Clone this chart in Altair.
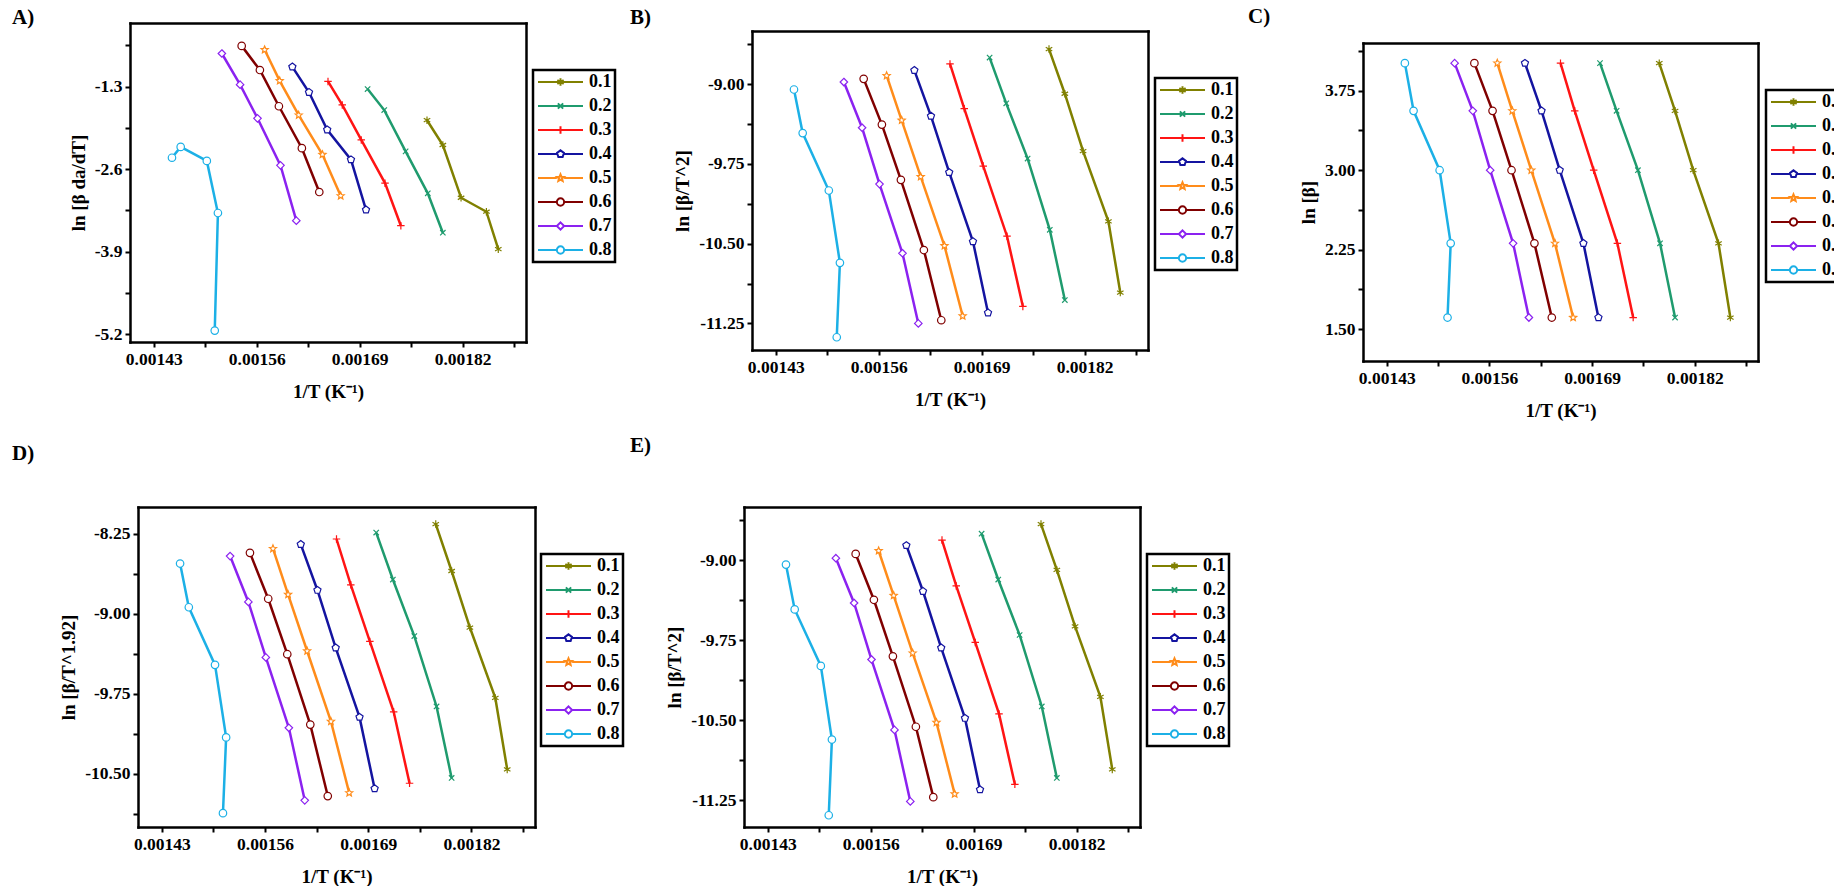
import math
import json
import altair as alt
import pandas as pd

# ---------------------------------------------------------------- data
alphas = ["0.1", "0.2", "0.3", "0.4", "0.5", "0.6", "0.7", "0.8"]
series_colors = ["#808000", "#1f9b6e", "#ff1414", "#1414a0",
                 "#ff8c1a", "#800000", "#8b22f0", "#1cb0e6"]
marker_kinds = ["asterisk", "cross", "plus", "pentagon",
                "star", "circle", "diamond", "circle"]

# 1/T (K^-1) for each conversion, fastest heating rate first
inv_temp = {
    "0.1": [0.001775, 0.001795, 0.001818, 0.001850, 0.001865],
    "0.2": [0.001700, 0.001721, 0.001748, 0.001776, 0.001795],
    "0.3": [0.001650, 0.001668, 0.001692, 0.001722, 0.001742],
    "0.4": [0.001605, 0.001626, 0.001649, 0.001679, 0.001698],
    "0.5": [0.001570, 0.001589, 0.001613, 0.001643, 0.001666],
    "0.6": [0.001541, 0.001564, 0.001588, 0.001617, 0.001639],
    "0.7": [0.001516, 0.001539, 0.001561, 0.001590, 0.001610],
    "0.8": [0.001453, 0.001464, 0.001497, 0.001511, 0.001507],
}

# A) ln [beta da/dT]
ln_rate = {
    "0.1": [-1.83, -2.22, -3.05, -3.27, -3.86],
    "0.2": [-1.34, -1.67, -2.32, -2.98, -3.60],
    "0.3": [-1.22, -1.59, -2.14, -2.82, -3.49],
    "0.4": [-0.99, -1.39, -1.98, -2.45, -3.24],
    "0.5": [-0.72, -1.21, -1.75, -2.37, -3.02],
    "0.6": [-0.66, -1.04, -1.61, -2.27, -2.96],
    "0.7": [-0.78, -1.27, -1.80, -2.54, -3.41],
    "0.8": [-2.42, -2.25, -2.47, -3.29, -5.14],
}

# B) ln [beta/T^2]
ln_beta_t2 = {
    "0.1": [-8.67, -9.09, -9.63, -10.29, -10.96],
    "0.2": [-8.75, -9.18, -9.70, -10.37, -11.03],
    "0.3": [-8.81, -9.23, -9.77, -10.43, -11.09],
    "0.4": [-8.87, -9.30, -9.83, -10.48, -11.15],
    "0.5": [-8.92, -9.34, -9.87, -10.52, -11.18],
    "0.6": [-8.95, -9.38, -9.90, -10.56, -11.22],
    "0.7": [-8.98, -9.41, -9.94, -10.59, -11.25],
    "0.8": [-9.05, -9.46, -10.00, -10.68, -11.38],
}

# C) ln [beta], same heating rates for every conversion
ln_beta = [4.01, 3.56, 3.00, 2.31, 1.61]

# D) ln [beta/T^1.92]
ln_beta_t192 = {
    "0.1": [-8.16, -8.60, -9.13, -9.79, -10.46],
    "0.2": [-8.24, -8.68, -9.21, -9.87, -10.54],
    "0.3": [-8.30, -8.73, -9.26, -9.92, -10.59],
    "0.4": [-8.35, -8.78, -9.32, -9.97, -10.64],
    "0.5": [-8.39, -8.82, -9.35, -10.01, -10.68],
    "0.6": [-8.43, -8.86, -9.38, -10.04, -10.71],
    "0.7": [-8.46, -8.89, -9.41, -10.07, -10.75],
    "0.8": [-8.53, -8.94, -9.48, -10.16, -10.87],
}

# E) ln [beta/T^2]
ln_beta_t2_e = {
    "0.1": [-8.66, -9.09, -9.62, -10.28, -10.96],
    "0.2": [-8.75, -9.18, -9.70, -10.37, -11.04],
    "0.3": [-8.81, -9.24, -9.77, -10.44, -11.10],
    "0.4": [-8.86, -9.29, -9.82, -10.48, -11.15],
    "0.5": [-8.91, -9.33, -9.87, -10.52, -11.19],
    "0.6": [-8.94, -9.37, -9.90, -10.56, -11.22],
    "0.7": [-8.98, -9.40, -9.93, -10.59, -11.26],
    "0.8": [-9.04, -9.46, -9.99, -10.68, -11.39],
}

x_major = [0.00143, 0.00156, 0.00169, 0.00182]
x_minor = [0.001495, 0.001625, 0.001755, 0.001885]

# ---------------------------------------------------------------- style
FONT = "Liberation Serif"
MINUS = "\u2212"
TITLE_LIFT = 17   # how far Vega raises a top title above the view
FRAME_W = 2.5
PAGE_W, PAGE_H = 1834, 886


def label_expr(major):
    return (f"indexof({json.dumps(major)}, datum.value) >= 0 ? "
            f"replace(datum.label, '{MINUS}', '-') : ''")


def fmt_pts(pts):
    return "L".join(f"{x:.3f},{y:.3f}" for x, y in pts)


def marker_path(kind, cx=0.0, r=1.0):
    """SVG path of a marker centred at (cx, 0) with half-size r."""
    if kind == "circle":
        return (f"M{cx - r:.3f},0A{r:.3f},{r:.3f} 0 1,0 {cx + r:.3f},0"
                f"A{r:.3f},{r:.3f} 0 1,0 {cx - r:.3f},0Z")
    if kind == "diamond":
        pts = [(cx, -r), (cx + r, 0), (cx, r), (cx - r, 0)]
        return "M" + fmt_pts(pts) + "Z"
    if kind == "pentagon":
        pts = [(cx + r * math.cos(-math.pi / 2 + i * 2 * math.pi / 5),
                r * math.sin(-math.pi / 2 + i * 2 * math.pi / 5)) for i in range(5)]
        return "M" + fmt_pts(pts) + "Z"
    if kind == "star":
        pts = []
        for i in range(10):
            a = -math.pi / 2 + i * math.pi / 5
            rad = r if i % 2 == 0 else 0.45 * r
            pts.append((cx + rad * math.cos(a), rad * math.sin(a)))
        return "M" + fmt_pts(pts) + "Z"
    d = 0.72 * r
    segs = []
    if kind == "plus":
        segs += [(cx, -r, cx, r), (cx - r, 0, cx + r, 0)]
    if kind == "asterisk":
        s, c = 0.87 * r, 0.5 * r
        segs += [(cx, -r, cx, r), (cx - s, -c, cx + s, c), (cx - s, c, cx + s, -c)]
    if kind == "cross":
        segs += [(cx - d, -d, cx + d, d), (cx - d, d, cx + d, -d)]
    return "".join(f"M{a:.3f},{b:.3f}L{c:.3f},{e:.3f}" for a, b, c, e in segs)


# legend glyph: a line segment with the marker in its middle
LEG_UNIT = 7.0                      # sqrt(symbolSize) / 2
LEG_LEN = 45.0                      # line length in px
leg_end = (LEG_LEN - LEG_UNIT) / LEG_UNIT
leg_cx = (LEG_LEN / 2 - LEG_UNIT) / LEG_UNIT
leg_r = 0.52


def legend_path(kind):
    hollow = kind in ("circle", "diamond", "pentagon", "star")
    if hollow:
        line = f"M-1,0L{leg_cx - leg_r:.3f},0M{leg_cx + leg_r:.3f},0L{leg_end:.3f},0"
    else:
        line = f"M-1,0L{leg_end:.3f},0"
    return line + marker_path(kind, leg_cx, leg_r)


legend_paths = [legend_path(k) for k in marker_kinds]
color_scale = alt.Scale(domain=alphas, range=series_colors)

# frame = plot box (left, top, width, height); view = grid cell holding it
panels = [
    dict(label="A)", ytitle="ln [\u03b2 da/dT]", y=ln_rate, domain=[-5.32, -0.3],
         major=[-1.3, -2.6, -3.9, -5.2], minor=[-0.65, -1.95, -3.25, -4.55], fmt=".1f",
         frame=(130, 23, 396, 319), view=(130, 23, 405, 338), lab=(12, 22)),
    dict(label="B)", ytitle="ln [\u03b2/T^2]", y=ln_beta_t2, domain=[-11.5, -8.5],
         major=[-9.0, -9.75, -10.5, -11.25], minor=[-8.625, -9.375, -10.125, -10.875], fmt=".2f",
         frame=(752, 31, 396, 319), view=(744, 23, 404, 338), lab=(630, 22)),
    dict(label="C)", ytitle="ln [\u03b2]", y=ln_beta, domain=[1.2, 4.2],
         major=[3.75, 3.0, 2.25, 1.5], minor=[4.125, 3.375, 2.625, 1.875], fmt=".2f",
         frame=(1363, 43, 395, 318), view=(1363, 23, 395, 338), lab=(1248, 21)),
    dict(label="D)", ytitle="ln [\u03b2/T^1.92]", y=ln_beta_t192, domain=[-11.0, -8.0],
         major=[-8.25, -9.0, -9.75, -10.5], minor=[-8.625, -9.375, -10.125, -10.875], fmt=".2f",
         frame=(138, 507, 397, 320), view=(130, 507, 405, 320), lab=(12, 458)),
    dict(label="E)", ytitle="ln [\u03b2/T^2]", y=ln_beta_t2_e, domain=[-11.5, -8.5],
         major=[-9.0, -9.75, -10.5, -11.25], minor=[-8.625, -9.375, -10.125, -10.875], fmt=".2f",
         frame=(744, 507, 396, 320), view=(744, 507, 404, 320), lab=(630, 450)),
]

edge_axis = dict(labels=False, ticks=False, title=None, domainColor="black",
                 domainWidth=FRAME_W, domainCap="square")


def make_panel(p):
    fl, ft, fw, fh = p["frame"]
    vl, vt, vw, vh = p["view"]
    x0, y0 = fl - vl, ft - vt              # frame offset inside the view

    rows = []
    for a in alphas:
        ys = p["y"][a] if isinstance(p["y"], dict) else p["y"]
        for k in range(5):
            rows.append({"alpha": a, "k": k, "inv_t": inv_temp[a][k], "val": ys[k]})
    base = alt.Chart(pd.DataFrame(rows))

    x_scale = alt.Scale(domain=[0.0014, 0.0019], nice=False, zero=False,
                        range=[x0, x0 + fw])
    y_scale = alt.Scale(domain=p["domain"], nice=False, zero=False,
                        range=[y0 + fh, y0])

    x_bottom = alt.X("inv_t:Q", scale=x_scale, axis=alt.Axis(
        orient="bottom", offset=(y0 + fh) - vh, values=x_major + x_minor,
        format=".5f", labelExpr=label_expr(x_major), title="1/T (K\u207b\u00b9)",
        domainCap="square"))
    y_left = alt.Y("val:Q", scale=y_scale, axis=alt.Axis(
        orient="left", offset=-x0, values=p["major"] + p["minor"], format=p["fmt"],
        labelExpr=label_expr(p["major"]), title=p["ytitle"], domainCap="square"))
    x_top = alt.X("inv_t:Q", scale=x_scale,
                  axis=alt.Axis(orient="top", offset=-y0, **edge_axis))
    y_right = alt.Y("val:Q", scale=y_scale,
                    axis=alt.Axis(orient="right", offset=(x0 + fw) - vw, **edge_axis))
    x_plain = alt.X("inv_t:Q", scale=x_scale, axis=None)
    y_plain = alt.Y("val:Q", scale=y_scale, axis=None)

    legend = alt.Legend(orient="none", legendX=x0 + 403, legendY=y0 + 47, title=None,
                        strokeColor="black", fillColor="white", padding=3,
                        rowPadding=6, symbolSize=196, symbolStrokeWidth=2,
                        symbolOpacity=1, symbolFillColor="white", labelOffset=35,
                        labelFont=FONT, labelFontSize=18, labelFontWeight="bold",
                        labelColor="black")

    lines = base.mark_line(strokeWidth=2.5, opacity=1).encode(
        x=x_bottom, y=y_left,
        color=alt.Color("alpha:N", scale=color_scale, legend=legend),
        order=alt.Order("k:Q"),
    )
    layers = [lines]
    for i, (a, c, kind) in enumerate(zip(alphas, series_colors, marker_kinds)):
        layers.append(
            base.transform_filter(alt.datum.alpha == a)
            .mark_point(shape=marker_path(kind), size=56, filled=False, fill="white",
                        fillOpacity=1, stroke=c, strokeWidth=1.2, opacity=1)
            .encode(x=x_top if i == 0 else x_plain, y=y_right if i == 0 else y_plain)
        )
    key = base.transform_filter("false").mark_point(
        filled=False, fill="white", opacity=1, strokeWidth=2
    ).encode(
        color=alt.Color("alpha:N", scale=color_scale, legend=legend),
        shape=alt.Shape("alpha:N", scale=alt.Scale(domain=alphas, range=legend_paths),
                        legend=legend),
    )
    layers.append(key)

    lx, ly = p["lab"]
    return alt.layer(*layers).resolve_axis(x="independent", y="independent").properties(
        width=vw, height=vh,
        title=alt.TitleParams(p["label"], anchor="start", frame="group", orient="top",
                              offset=0, dx=lx - vl, dy=ly - vt + TITLE_LIFT,
                              baseline="middle", font=FONT, fontSize=21,
                              fontWeight="bold", color="black"),
    )


def spacer(w, h):
    return alt.Chart(pd.DataFrame({"s": [0]})).mark_point(opacity=0).encode(
        x=alt.X("s:Q", axis=None), y=alt.Y("s:Q", axis=None)
    ).properties(width=w, height=h)


A, B, C, D, E = [make_panel(p) for p in panels]
va, vb, vc, vd = panels[0]["view"], panels[1]["view"], panels[2]["view"], panels[3]["view"]

# grid columns: left margin | A,D | gap | B,E | gap | C
col_w = [va[0], va[2], vb[0] - va[0] - va[2], vb[2], vc[0] - vb[0] - vb[2], vc[2]]
# grid rows: top margin | A,B,C | gap | D,E
row_h = [va[1], va[3], vd[1] - va[1] - va[3], vd[3]]

cells = [[None] * 6 for _ in range(4)]
for c in range(6):
    cells[0][c] = spacer(col_w[c], row_h[0] if c == 0 else 1)
for r in range(1, 4):
    cells[r][0] = spacer(1, row_h[r])
cells[1][1], cells[1][3], cells[1][5] = A, B, C
cells[3][1], cells[3][3] = D, E
grid = [cells[r][c] if cells[r][c] is not None else spacer(1, 1)
        for r in range(4) for c in range(6)]

# fixed-size page: the C legend runs past the right edge and is cut there
chart = alt.concat(*grid, columns=6).properties(
    spacing=0, bounds="flush", align="each", background="white",
    autosize=alt.AutoSizeParams(type="none"),
    padding={"left": 0, "top": 0, "right": PAGE_W, "bottom": PAGE_H},
).resolve_scale(
    x="independent", y="independent", color="independent", shape="independent"
).resolve_axis(
    x="independent", y="independent"
).resolve_legend(
    color="independent", shape="independent"
).configure_view(
    stroke="transparent"
).configure_axis(
    grid=False, domainColor="black", domainWidth=FRAME_W, tickColor="black",
    tickWidth=2, tickSize=5, labelFont=FONT, labelFontSize=17.5,
    labelFontWeight="bold", labelColor="black", labelPadding=3,
    labelFlush=False, labelOverlap=False, titleFont=FONT, titleFontSize=19,
    titleFontWeight="bold", titleColor="black",
).configure_axisX(
    titlePadding=15
).configure_axisY(
    titlePadding=6
).configure_legend(
    strokeWidth=2.5
)

chart.save("out.html", embed_options={"renderer": "svg", "actions": False})
